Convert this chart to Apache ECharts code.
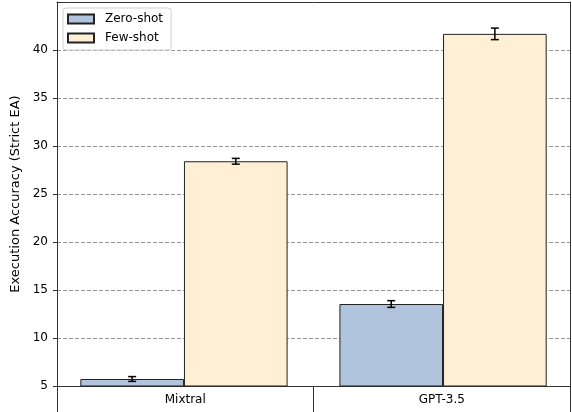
<!DOCTYPE html>
<html>
<head>
<meta charset="utf-8">
<script src="https://cdn.jsdelivr.net/npm/echarts@6/dist/echarts.min.js"></script>
<style>
  html, body { margin: 0; padding: 0; background: #fff; }
  #chart { width: 572px; height: 412px; }
</style>
</head>
<body>
<div id="chart"></div>
<script>
// data
const models = ['Mixtral', 'GPT-3.5']
const zeroShot = [5.73, 13.54]
const zeroShotErr = [0.25, 0.35]
const fewShot = [28.41, 41.68]
const fewShotErr = [0.3, 0.6]
const yTicks = [5, 10, 15, 20, 25, 30, 35, 40]

const font = 'DejaVu Sans'
const grid = { left: 57, right: 2, top: 2, bottom: 26 }
// matplotlib-like x range: bars at i-0.2 / i+0.2, width 0.4, 5% margins
const xMin = -0.49
const xMax = 1.49
const barPx = (572 - grid.left - grid.right) * 0.4 / (xMax - xMin)

const chart = echarts.init(document.getElementById('chart'))

// error bar drawer, shift = offset of the bar from the model position
function errorBar(shift) {
  return function (params, api) {
    const x = api.value(0) + shift
    const lo = api.coord([x, api.value(1)])
    const hi = api.coord([x, api.value(2)])
    const cap = 4
    const style = { stroke: '#000', lineWidth: 1.5 }
    return {
      type: 'group',
      children: [
        { type: 'line', shape: { x1: lo[0], y1: lo[1], x2: hi[0], y2: hi[1] }, style: style },
        { type: 'line', shape: { x1: lo[0] - cap, y1: lo[1], x2: lo[0] + cap, y2: lo[1] }, style: style },
        { type: 'line', shape: { x1: hi[0] - cap, y1: hi[1], x2: hi[0] + cap, y2: hi[1] }, style: style }
      ]
    }
  }
}

chart.setOption({
  animation: false,
  textStyle: { fontFamily: font },
  grid: grid,
  legend: {
    left: 63, top: 8, orient: 'vertical',
    icon: 'rect',
    itemWidth: 26, itemHeight: 9, itemGap: 7,
    padding: [5, 8, 6, 4],
    backgroundColor: '#fff', borderColor: '#d0d0d0', borderWidth: 1, borderRadius: 3,
    textStyle: { fontFamily: font, fontSize: 12, color: '#000', padding: [0, 0, 0, 6] },
    data: ['Zero-shot', 'Few-shot']
  },
  xAxis: [
    {
      // the label row under the plot
      type: 'category',
      data: models,
      axisLine: { onZero: false, lineStyle: { color: '#333' } },
      axisTick: { show: true, length: 26, lineStyle: { color: '#333' } },
      axisLabel: { fontSize: 12, color: '#000', fontFamily: font, margin: 8 }
    },
    {
      // data axis for the bars, drawn as the top spine
      type: 'value', position: 'top', min: xMin, max: xMax,
      axisLine: { show: true, onZero: false, lineStyle: { color: '#333' } },
      axisTick: { show: false }, axisLabel: { show: false }, splitLine: { show: false }
    }
  ],
  yAxis: [
    {
      type: 'value', min: 5, max: 45, interval: 5,
      name: 'Execution Accuracy (Strict EA)',
      nameLocation: 'middle', nameGap: 31,
      nameTextStyle: { fontSize: 13, color: '#000', fontFamily: font },
      axisLine: { show: true, onZero: false, lineStyle: { color: '#333' } },
      axisTick: { show: true, length: 4, customValues: yTicks, lineStyle: { color: '#333' } },
      axisLabel: { fontSize: 12, color: '#000', fontFamily: font, margin: 9, customValues: yTicks },
      splitLine: { show: true, lineStyle: { color: '#999', type: [4, 2], width: 1 } }
    },
    {
      type: 'value', min: 5, max: 45, position: 'right',
      axisLine: { show: true, onZero: false, lineStyle: { color: '#333' } },
      axisTick: { show: false }, axisLabel: { show: false }, splitLine: { show: false }
    }
  ],
  series: [
    {
      name: 'Zero-shot', type: 'bar', xAxisIndex: 1,
      data: zeroShot.map((v, i) => [i, v]),
      barWidth: barPx, barGap: '0%',
      itemStyle: { color: '#b0c4de', borderColor: '#222', borderWidth: 1 }
    },
    {
      name: 'Few-shot', type: 'bar', xAxisIndex: 1,
      data: fewShot.map((v, i) => [i, v]),
      barWidth: barPx, barGap: '0%',
      itemStyle: { color: '#ffefd5', borderColor: '#222', borderWidth: 1 }
    },
    {
      type: 'custom', xAxisIndex: 1, z: 10,
      renderItem: errorBar(-0.2),
      data: zeroShot.map((v, i) => [i, v - zeroShotErr[i], v + zeroShotErr[i]])
    },
    {
      type: 'custom', xAxisIndex: 1, z: 10,
      renderItem: errorBar(0.2),
      data: fewShot.map((v, i) => [i, v - fewShotErr[i], v + fewShotErr[i]])
    }
  ]
})
</script>
</body>
</html>
